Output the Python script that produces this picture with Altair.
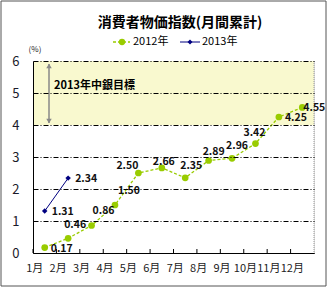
import altair as alt
import pandas as pd

# ---- data ----
months = ["1月", "2月", "3月", "4月", "5月", "6月", "7月", "8月", "9月", "10月", "11月", "12月"]
values_2012 = [0.17, 0.46, 0.86, 1.50, 2.50, 2.66, 2.35, 2.89, 2.96, 3.42, 4.25, 4.55]
values_2013 = [1.31, 2.34]
series_names = ["2012年", "2013年"]
y_ticks = [0, 1, 2, 3, 4, 5, 6]
target_band = [4, 6]
title_text = "消費者物価指数(月間累計)"
target_text = "2013年中銀目標"
unit_text = "(%)"

# label nudges (dx, dy) for readability, like the original
nudge_2012 = [(17, 1), (7, -13), (12, -14), (14, -14), (-11, -7), (2, -6),
              (6, -12), (5, -9), (5, -12), (-1, -11), (17, 1), (12, 1)]
nudge_2013 = [(18, 1), (18, 1)]

W, H = 281, 192
FONT = "Noto Sans CJK JP"
GREEN = "#99CC00"
NAVY = "#000080"

df12 = pd.DataFrame({"month": months, "value": values_2012,
                     "label": [f"{v:.2f}" for v in values_2012]})
df13 = pd.DataFrame({"month": months[:len(values_2013)], "value": values_2013,
                     "label": [f"{v:.2f}" for v in values_2013]})
band_df = pd.DataFrame({"lo": [target_band[0]], "hi": [target_band[1]]})
one = pd.DataFrame({"a": [0]})

xscale = alt.Scale(type="band", domain=months, paddingInner=0, paddingOuter=0)
yscale = alt.Scale(domain=[0, 6], nice=False, zero=True)

x_axis = alt.Axis(labelAngle=0, labelOffset=-10, ticks=False, domainColor="#000",
                  labelFontSize=11, labelColor="#222", labelPadding=9, grid=False,
                  title=None, labelFont=FONT)
y_axis = alt.Axis(values=y_ticks, grid=True, gridDash=[5, 2, 1, 2], gridColor="#000",
                  gridWidth=1, ticks=False, domainColor="#000", labelFontSize=13,
                  labelColor="#1a1a2a", labelPadding=14, title=None, zindex=1,
                  labelFont=FONT)

x_enc = alt.X("month:N", sort=months, scale=xscale, axis=x_axis)
y_enc = alt.Y("value:Q", scale=yscale, axis=y_axis)

# target band
band = alt.Chart(band_df).mark_rect(fill="#F9F9CF").encode(
    x=alt.value(0), x2=alt.value(W),
    y=alt.Y("hi:Q", scale=yscale, axis=y_axis), y2="lo:Q")

# x tick marks at band boundaries, inside
ticks = alt.Chart(df12).mark_rule(color="#000").encode(
    x=alt.X("month:N", sort=months, scale=xscale, axis=x_axis, bandPosition=0),
    y=alt.value(H - 4), y2=alt.value(H))

right_border = alt.Chart(one).mark_rule(color="#999", strokeDash=[1, 1]).encode(
    x=alt.value(W), y=alt.value(0), y2=alt.value(H))

outer = alt.Chart(one).mark_rect(fillOpacity=0, stroke="#555", strokeWidth=1).encode(
    x=alt.value(-32), x2=alt.value(293), y=alt.value(-60), y2=alt.value(225))

# arrow
arrow = alt.Chart(one).mark_rule(color="#888", strokeWidth=1.5).encode(
    x=alt.value(16), y=alt.value(3), y2=alt.value(62))
arrow_up = alt.Chart(one).mark_point(shape="triangle-up", filled=True, color="#888",
                                     size=30, opacity=1).encode(
    x=alt.value(16), y=alt.value(5))
arrow_dn = alt.Chart(one).mark_point(shape="triangle-down", filled=True, color="#888",
                                     size=30, opacity=1).encode(
    x=alt.value(16), y=alt.value(60))
target_lbl = alt.Chart(one).mark_text(text=target_text, font=FONT, fontSize=11,
                                      fontWeight="bold", align="left",
                                      baseline="middle", color="#000").encode(
    x=alt.value(21), y=alt.value(25))

# series
line12 = alt.Chart(df12).mark_line(color=GREEN, strokeWidth=1.3, strokeDash=[3, 2]).encode(
    x=x_enc, y=y_enc)
pts12 = alt.Chart(df12).mark_point(shape="circle", filled=True, color=GREEN, size=45,
                                   opacity=1).encode(x=x_enc, y=y_enc)
line13 = alt.Chart(df13).mark_line(color=NAVY, strokeWidth=1).encode(x=x_enc, y=y_enc)
pts13 = alt.Chart(df13).mark_point(shape="diamond", filled=True, color=NAVY, size=30,
                                   opacity=1).encode(x=x_enc, y=y_enc)

labels = []
for df, nudges in ((df12, nudge_2012), (df13, nudge_2013)):
    for m, (dx, dy) in zip(df["month"], nudges):
        labels.append(
            alt.Chart(df).transform_filter(alt.datum.month == m).mark_text(
                dx=dx, dy=dy, font=FONT, fontSize=10.5, fontWeight="bold",
                color="#111", align="center", baseline="middle").encode(
                x=x_enc, y=y_enc, text="label:N"))

# title and legend
title = alt.Chart(one).mark_text(text=title_text, font=FONT, fontSize=14,
                                 fontWeight="bold", align="center",
                                 baseline="middle", color="#000").encode(
    x=alt.value(147), y=alt.value(-38))
unit = alt.Chart(one).mark_text(text=unit_text, font=FONT, fontSize=8, align="center",
                                baseline="middle", color="#222").encode(
    x=alt.value(2), y=alt.value(-11))

leg_line12 = alt.Chart(one).mark_rule(color=GREEN, strokeWidth=1.3, strokeDash=[3, 2]).encode(
    x=alt.value(80), x2=alt.value(97), y=alt.value(-19))
leg_pt12 = alt.Chart(one).mark_point(shape="circle", filled=True, color=GREEN, size=40,
                                     opacity=1).encode(x=alt.value(89), y=alt.value(-19))
leg_txt12 = alt.Chart(one).mark_text(text=series_names[0], font=FONT, fontSize=11,
                                     align="left", baseline="middle", color="#000").encode(
    x=alt.value(100), y=alt.value(-19))
leg_line13 = alt.Chart(one).mark_rule(color=NAVY, strokeWidth=1).encode(
    x=alt.value(147), x2=alt.value(167), y=alt.value(-19))
leg_pt13 = alt.Chart(one).mark_point(shape="diamond", filled=True, color=NAVY, size=25,
                                     opacity=1).encode(x=alt.value(157), y=alt.value(-19))
leg_txt13 = alt.Chart(one).mark_text(text=series_names[1], font=FONT, fontSize=11,
                                     align="left", baseline="middle", color="#000").encode(
    x=alt.value(169), y=alt.value(-19))

chart = alt.layer(
    band, ticks, right_border, outer, arrow, arrow_up, arrow_dn, target_lbl,
    line12, line13, pts12, pts13, *labels,
    title, unit, leg_line12, leg_pt12, leg_txt12, leg_line13, leg_pt13, leg_txt13,
).properties(
    width=W, height=H,
    autosize="none",
    padding={"left": 33, "top": 61, "right": 15, "bottom": 36},
    background="white",
).configure_view(stroke=None).configure(font=FONT)

chart.save("out.html", embed_options={"renderer": "svg", "actions": False})
